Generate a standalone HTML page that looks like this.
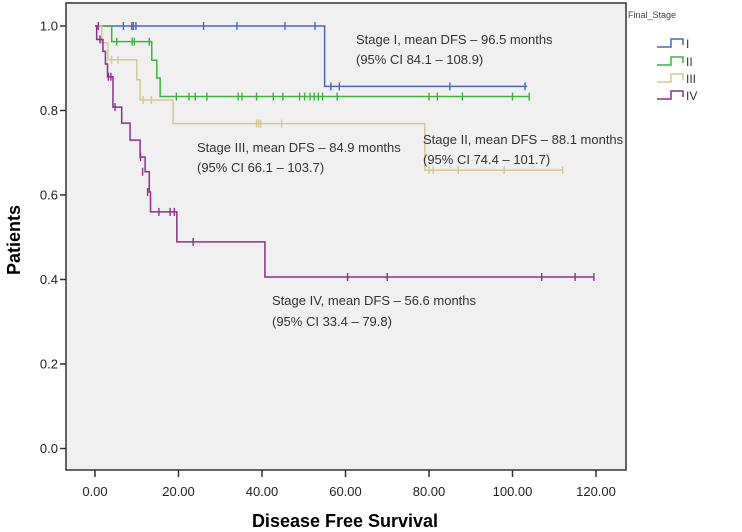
<!DOCTYPE html>
<html><head><meta charset="utf-8"><style>
body{margin:0;background:#fff;}
svg{display:block;font-family:"Liberation Sans",sans-serif;}
</style></head><body>
<svg id="chart" width="742" height="532">
<rect x="66" y="3" width="560" height="467" fill="#f0f0f0" stroke="#333" stroke-width="1.5"/>
<g id="axes"></g><g id="series"></g>
<g font-size="13" fill="#333">
<text x="356" y="44">Stage I, mean DFS – 96.5 months</text>
<text x="356" y="64">(95% CI 84.1 – 108.9)</text>
<text x="423" y="144">Stage II, mean DFS – 88.1 months</text>
<text x="423" y="164">(95% CI 74.4 – 101.7)</text>
<text x="197" y="152">Stage III, mean DFS – 84.9 months</text>
<text x="197" y="172">(95% CI 66.1 – 103.7)</text>
<text x="272" y="305">Stage IV, mean DFS – 56.6 months</text>
<text x="272" y="326">(95% CI 33.4 – 79.8)</text>
</g>
<text x="20" y="240" font-size="18" font-weight="bold" text-anchor="middle" transform="rotate(-90 20 240)">Patients</text>
<text x="345" y="527" font-size="18" font-weight="bold" text-anchor="middle">Disease Free Survival</text>
<g id="legend">
<text x="628" y="18" font-size="9" fill="#444">Final_Stage</text>
</g>
</svg>
<script>
const yTicks=[0,0.2,0.4,0.6,0.8,1.0];
const xTicks=[0,20,40,60,80,100,120];
const stageNames=["I","II","III","IV"];
const stageColors=["#4a66c0","#3cb43c","#d6c88e","#8e2f8e"];
const stepsI=[[0,1],[55,0.857]];
const endI=103.5;
const censI=[[6.8,1],[8.8,1],[9.2,1],[9.8,1],[26,1],[34,1],[45.5,1],[52.7,1],[56.5,0.857],[58.5,0.857],[85,0.857],[103,0.857]];
const stepsII=[[0,1],[4,0.963],[13.6,0.919],[14.8,0.877],[15.6,0.833]];
const endII=104;
const censII=[[5.2,0.963],[8.9,0.963],[9.4,0.963],[13,0.963],[19.5,0.833],[22.5,0.833],[24,0.833],[26.8,0.833],[34.3,0.833],[35.2,0.833],[38.7,0.833],[42.7,0.833],[45,0.833],[49,0.833],[50.2,0.833],[51.5,0.833],[52.5,0.833],[53.5,0.833],[54.5,0.833],[58,0.833],[80,0.833],[82,0.833],[88,0.833],[100,0.833],[104,0.833]];
const stepsIII=[[0,1],[1.6,0.96],[3.1,0.92],[10,0.873],[10.8,0.825],[18.7,0.769],[79,0.659]];
const endIII=112;
const censIII=[[4,0.92],[5.5,0.92],[11.5,0.825],[13.5,0.825],[38.7,0.769],[39.2,0.769],[39.7,0.769],[44.7,0.769],[80,0.659],[81,0.659],[87,0.659],[98,0.659],[112,0.659]];
const stepsIV=[[0,1],[0.4,0.968],[1.9,0.94],[2.5,0.91],[3,0.88],[4.3,0.808],[6.4,0.77],[8.4,0.73],[10.8,0.69],[12,0.655],[13,0.607],[13.3,0.56],[19.6,0.489],[40.7,0.406]];
const endIV=119.5;
const censIV=[[0.8,1],[1.2,0.968],[3.2,0.88],[3.8,0.88],[4.8,0.808],[10.9,0.69],[11.4,0.655],[12.6,0.607],[15.3,0.56],[18,0.56],[19,0.56],[23.5,0.489],[60.5,0.406],[70,0.406],[107,0.406],[115,0.406],[119.5,0.406]];
const allSteps=[stepsI,stepsII,stepsIII,stepsIV];
const allEnds=[endI,endII,endIII,endIV];
const allCens=[censI,censII,censIII,censIV];

const NS="http://www.w3.org/2000/svg";
const X=t=>95+t*4.175, Y=s=>448.5-s*422.5;
function mk(tag,attrs,parent){const e=document.createElementNS(NS,tag);for(const k in attrs)e.setAttribute(k,attrs[k]);parent.appendChild(e);return e;}
const axes=document.getElementById('axes');
yTicks.forEach(v=>{
  const l=mk('line',{x1:60,x2:66,y1:Y(v),y2:Y(v),stroke:'#333','stroke-width':1.5},axes);
  
  
  const t=mk('text',{x:58,y:Y(v)+4.5,'font-size':13,'text-anchor':'end',fill:'#222'},axes);
  t.textContent=v.toFixed(1);
  
  
});
xTicks.forEach(v=>{
  const l=mk('line',{x1:X(v),x2:X(v),y1:470,y2:477,stroke:'#333','stroke-width':1.5},axes);
  
  
  const t=mk('text',{x:X(v),y:496,'font-size':13,'text-anchor':'middle',fill:'#222'},axes);
  t.textContent=v.toFixed(2);
  
  
});
const ser=document.getElementById('series');
allSteps.forEach((st,i)=>{
  let d='M'+X(st[0][0])+' '+Y(st[0][1]);
  for(let k=1;k<st.length;k++){d+=' H'+X(st[k][0])+' V'+Y(st[k][1]);}
  d+=' H'+X(allEnds[i]);
  const p=mk('path',{d:d,fill:'none',stroke:stageColors[i],'stroke-width':1.5},ser);
  
  
  allCens[i].forEach(c=>{
    const m=mk('line',{x1:X(c[0]),x2:X(c[0]),y1:Y(c[1])-4,y2:Y(c[1])+4,stroke:stageColors[i],'stroke-width':1.4},ser);
    
    
  });
});
const lg=document.getElementById('legend');
const ly=[43,61,78,95];
stageNames.forEach((n,i)=>{
  const p=mk('path',{d:`M657 ${ly[i]+4} H671 V${ly[i]-4} H683 V${ly[i]+2}`,fill:'none',stroke:stageColors[i],'stroke-width':1.5},lg);
  
  
  const t=mk('text',{x:686,y:ly[i]+5,'font-size':12,fill:'#333'},lg);
  t.textContent=n;
  
  
});
</script>
</body></html>
